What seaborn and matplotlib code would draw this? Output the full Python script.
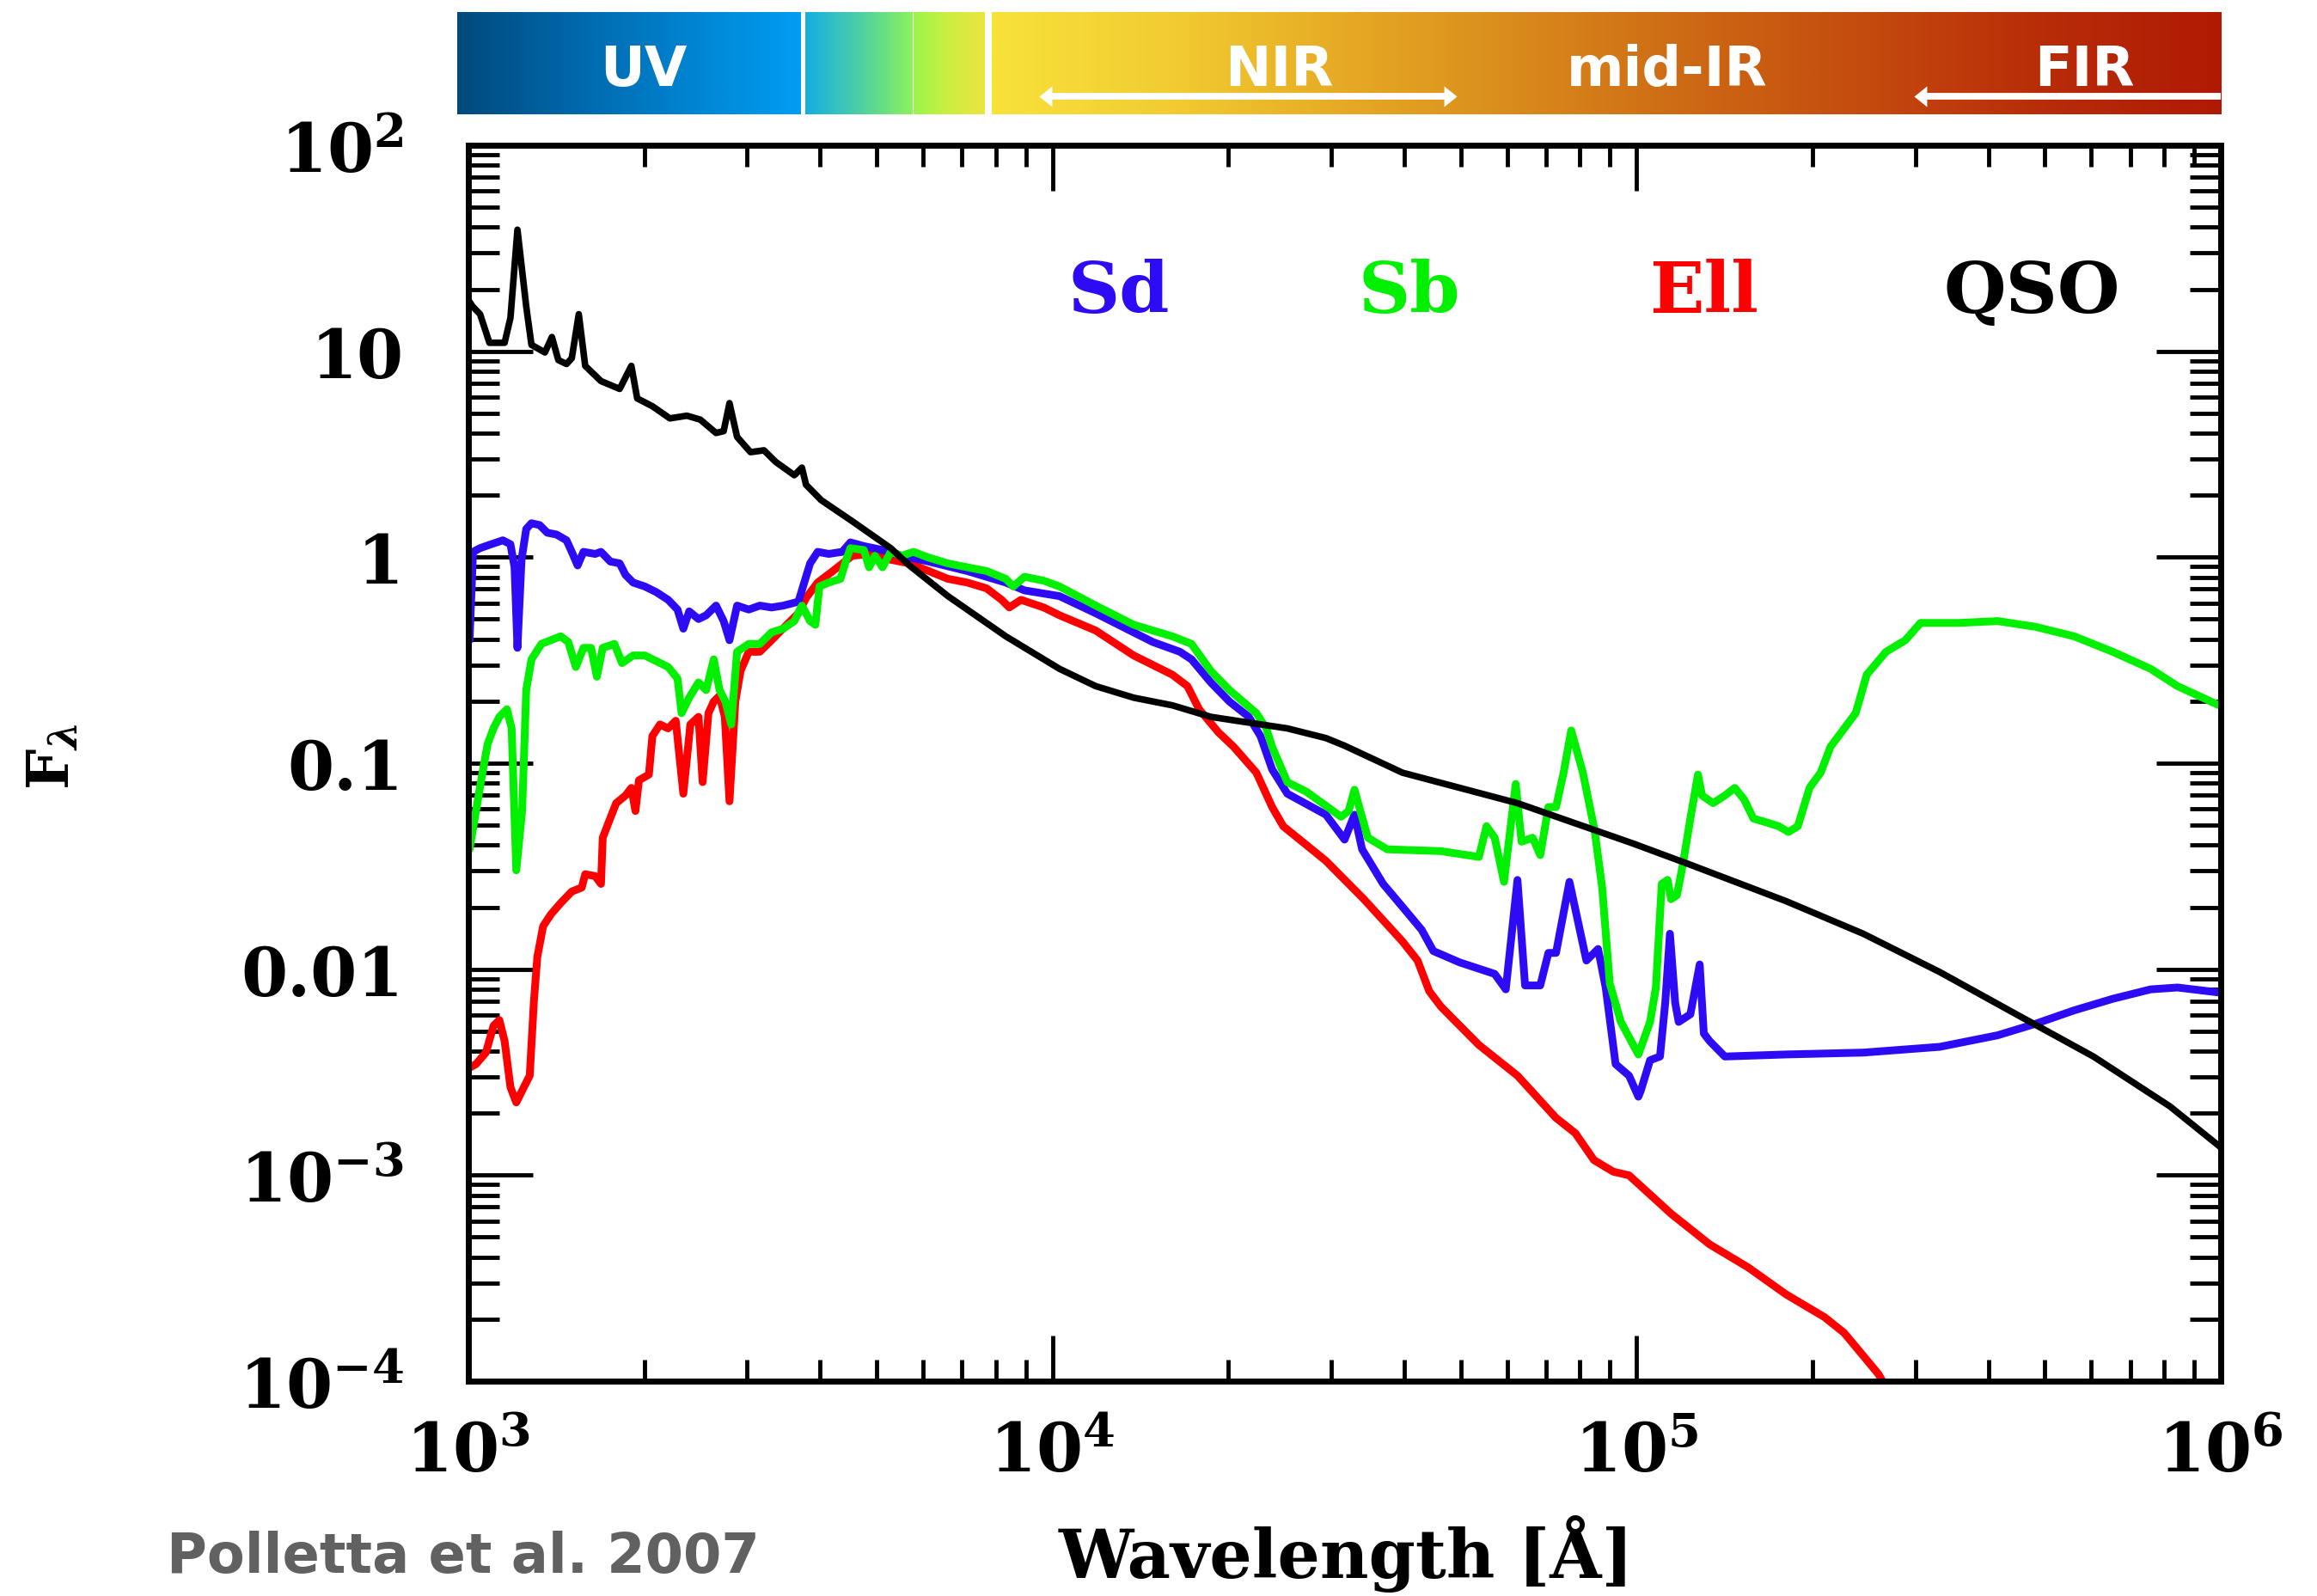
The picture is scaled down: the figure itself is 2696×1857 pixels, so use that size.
import numpy as np
import matplotlib
matplotlib.use("Agg")
import matplotlib.pyplot as plt
from matplotlib.colors import LinearSegmentedColormap
from matplotlib.ticker import LogLocator, NullFormatter
import seaborn as sns

# ---------------------------------------------------------------
# Template SEDs: log10 wavelength [Angstrom] and log10 F_lambda
# ---------------------------------------------------------------
qso_logwave = [3.002, 3.007, 3.020, 3.036, 3.062, 3.072, 3.084, 3.099, 3.108, 3.131,
               3.143, 3.154, 3.168, 3.177, 3.189, 3.200, 3.227, 3.259, 3.279, 3.289,
               3.315, 3.345, 3.374, 3.397, 3.424, 3.437, 3.447, 3.460, 3.483, 3.506,
               3.526, 3.558, 3.571, 3.578, 3.604, 3.657, 3.723, 3.755, 3.821, 3.920,
               4.012, 4.074, 4.139, 4.205, 4.271, 4.336, 4.402, 4.468, 4.500, 4.599,
               4.796, 4.994, 5.092, 5.256, 5.388, 5.519, 5.650, 5.782, 5.913, 6.000]
qso_logflux = [1.240, 1.218, 1.180, 1.041, 1.041, 1.162, 1.590, 1.218, 1.031, 0.994,
               1.069, 0.957, 0.938, 0.966, 1.180, 0.929, 0.855, 0.817, 0.929, 0.771,
               0.733, 0.674, 0.687, 0.668, 0.603, 0.612, 0.748, 0.584, 0.510, 0.519,
               0.463, 0.398, 0.435, 0.352, 0.277, 0.175, 0.044, -0.040, -0.189, -0.384,
               -0.542, -0.626, -0.682, -0.719, -0.775, -0.803, -0.831, -0.878, -0.915, -1.046,
               -1.194, -1.390, -1.493, -1.670, -1.828, -2.014, -2.219, -2.424, -2.666, -2.865]

sd_logwave = [3.002, 3.008, 3.020, 3.039, 3.059, 3.072, 3.079, 3.084, 3.091, 3.099,
              3.108, 3.122, 3.135, 3.151, 3.168, 3.177, 3.187, 3.197, 3.217, 3.227,
              3.243, 3.259, 3.269, 3.282, 3.302, 3.322, 3.342, 3.358, 3.368, 3.378,
              3.394, 3.407, 3.424, 3.437, 3.447, 3.460, 3.480, 3.499, 3.519, 3.539,
              3.565, 3.575, 3.585, 3.598, 3.617, 3.640, 3.654, 3.677, 3.709, 3.742,
              3.788, 3.854, 3.920, 3.952, 4.012, 4.074, 4.139, 4.172, 4.218, 4.238,
              4.271, 4.303, 4.336, 4.356, 4.376, 4.402, 4.468, 4.500, 4.517, 4.530,
              4.566, 4.599, 4.632, 4.652, 4.697, 4.757, 4.776, 4.796, 4.809, 4.835,
              4.849, 4.862, 4.885, 4.914, 4.934, 4.947, 4.964, 4.987, 5.003, 5.007,
              5.023, 5.040, 5.049, 5.057, 5.066, 5.072, 5.092, 5.108, 5.115, 5.125,
              5.151, 5.256, 5.388, 5.519, 5.618, 5.683, 5.749, 5.815, 5.880, 5.926,
              6.005]
sd_logflux = [-0.403, 0.026, 0.044, 0.063, 0.082, 0.063, -0.049, -0.440, -0.012, 0.137,
              0.165, 0.156, 0.119, 0.110, 0.082, 0.026, -0.040, 0.026, 0.016, 0.026,
              -0.021, -0.030, -0.086, -0.123, -0.142, -0.170, -0.207, -0.254, -0.347, -0.263,
              -0.300, -0.282, -0.235, -0.310, -0.403, -0.235, -0.254, -0.235, -0.244, -0.235,
              -0.216, -0.123, -0.030, 0.026, 0.016, 0.026, 0.072, 0.054, 0.035, 0.007,
              -0.021, -0.067, -0.123, -0.161, -0.189, -0.272, -0.365, -0.412, -0.459, -0.496,
              -0.608, -0.701, -0.775, -0.868, -1.030, -1.148, -1.250, -1.371, -1.250, -1.418,
              -1.586, -1.697, -1.809, -1.912, -1.967, -2.023, -2.098, -1.567, -2.079, -2.079,
              -1.921, -1.921, -1.576, -1.958, -1.902, -2.089, -2.461, -2.517, -2.619, -2.591,
              -2.442, -2.424, -2.163, -1.828, -2.163, -2.256, -2.219, -1.977, -2.312, -2.349,
              -2.424, -2.414, -2.405, -2.377, -2.321, -2.265, -2.200, -2.144, -2.098, -2.089,
              -2.116]

sb_logwave = [3.002, 3.013, 3.023, 3.033, 3.043, 3.053, 3.066, 3.074, 3.082, 3.092,
              3.099, 3.108, 3.125, 3.141, 3.158, 3.171, 3.184, 3.197, 3.210, 3.220,
              3.230, 3.250, 3.263, 3.282, 3.302, 3.322, 3.342, 3.358, 3.365, 3.378,
              3.394, 3.407, 3.420, 3.430, 3.440, 3.450, 3.460, 3.480, 3.499, 3.519,
              3.539, 3.558, 3.571, 3.585, 3.594, 3.601, 3.617, 3.637, 3.647, 3.654,
              3.677, 3.686, 3.696, 3.709, 3.723, 3.742, 3.762, 3.788, 3.821, 3.854,
              3.887, 3.920, 3.933, 3.952, 3.985, 4.012, 4.074, 4.139, 4.172, 4.205,
              4.238, 4.271, 4.303, 4.349, 4.366, 4.376, 4.402, 4.435, 4.494, 4.507,
              4.517, 4.527, 4.540, 4.573, 4.665, 4.730, 4.743, 4.757, 4.773, 4.793,
              4.803, 4.822, 4.835, 4.849, 4.862, 4.875, 4.888, 4.908, 4.928, 4.941,
              4.954, 4.973, 5.003, 5.023, 5.033, 5.043, 5.053, 5.059, 5.069, 5.079,
              5.092, 5.105, 5.112, 5.131, 5.151, 5.168, 5.184, 5.200, 5.223, 5.243,
              5.260, 5.276, 5.286, 5.296, 5.315, 5.332, 5.375, 5.394, 5.427, 5.460,
              5.486, 5.552, 5.618, 5.683, 5.749, 5.815, 5.880, 5.926, 6.005]
sb_logflux = [-1.418, -1.232, -1.064, -0.906, -0.831, -0.775, -0.738, -0.831, -1.520, -1.232,
              -0.645, -0.496, -0.421, -0.403, -0.384, -0.412, -0.533, -0.440, -0.440, -0.580,
              -0.440, -0.421, -0.514, -0.477, -0.477, -0.505, -0.533, -0.589, -0.757, -0.682,
              -0.608, -0.645, -0.496, -0.645, -0.701, -0.812, -0.459, -0.421, -0.421, -0.365,
              -0.347, -0.310, -0.235, -0.310, -0.328, -0.142, -0.123, -0.105, -0.012, 0.044,
              0.035, -0.049, 0.007, -0.049, 0.026, 0.007, 0.026, -0.002, -0.030, -0.049,
              -0.067, -0.105, -0.142, -0.095, -0.114, -0.142, -0.235, -0.328, -0.356, -0.384,
              -0.421, -0.552, -0.645, -0.757, -0.831, -0.920, -1.092, -1.139, -1.260, -1.232,
              -1.129, -1.232, -1.362, -1.418, -1.427, -1.455, -1.306, -1.362, -1.576, -1.101,
              -1.381, -1.362, -1.446, -1.213, -1.213, -1.046, -0.841, -1.046, -1.325, -1.604,
              -2.070, -2.256, -2.414, -2.256, -2.089, -1.586, -1.567, -1.660, -1.641, -1.493,
              -1.269, -1.055, -1.157, -1.194, -1.157, -1.120, -1.176, -1.269, -1.288, -1.306,
              -1.334, -1.306, -1.213, -1.120, -1.046, -0.920, -0.757, -0.570, -0.459, -0.403,
              -0.319, -0.319, -0.310, -0.338, -0.384, -0.459, -0.542, -0.626, -0.729]

ell_logwave = [3.001, 3.013, 3.030, 3.043, 3.053, 3.062, 3.072, 3.082, 3.095, 3.105,
               3.112, 3.118, 3.128, 3.141, 3.158, 3.177, 3.194, 3.200, 3.217, 3.227,
               3.230, 3.240, 3.253, 3.269, 3.279, 3.286, 3.292, 3.309, 3.315, 3.328,
               3.342, 3.355, 3.368, 3.380, 3.394, 3.401, 3.411, 3.420, 3.430, 3.439,
               3.447, 3.457, 3.466, 3.480, 3.499, 3.519, 3.545, 3.565, 3.578, 3.598,
               3.624, 3.657, 3.690, 3.723, 3.755, 3.788, 3.821, 3.854, 3.887, 3.913,
               3.926, 3.946, 3.985, 4.012, 4.074, 4.139, 4.205, 4.231, 4.251, 4.284,
               4.310, 4.349, 4.376, 4.395, 4.468, 4.533, 4.599, 4.625, 4.645, 4.665,
               4.730, 4.796, 4.862, 4.895, 4.927, 4.960, 4.987, 5.059, 5.125, 5.191,
               5.256, 5.322, 5.355, 5.388, 5.414, 5.430]
ell_logflux = [-2.480, -2.461, -2.405, -2.275, -2.247, -2.349, -2.573, -2.647, -2.573, -2.517,
               -2.163, -1.940, -1.791, -1.735, -1.679, -1.623, -1.604, -1.539, -1.548, -1.586,
               -1.362, -1.288, -1.194, -1.157, -1.120, -1.232, -1.083, -1.055, -0.868, -0.812,
               -0.831, -0.794, -1.148, -0.812, -0.775, -1.092, -0.757, -0.701, -0.673, -0.775,
               -1.185, -0.701, -0.552, -0.459, -0.459, -0.403, -0.328, -0.272, -0.198, -0.123,
               -0.067, 0.007, 0.016, -0.012, -0.030, -0.067, -0.105, -0.123, -0.151, -0.207,
               -0.244, -0.207, -0.244, -0.282, -0.356, -0.477, -0.570, -0.626, -0.738, -0.850,
               -0.920, -1.046, -1.213, -1.306, -1.474, -1.660, -1.865, -1.958, -2.107, -2.182,
               -2.368, -2.517, -2.722, -2.796, -2.927, -2.983, -3.001, -3.187, -3.336, -3.448,
               -3.579, -3.690, -3.765, -3.877, -3.966, -4.044]

template_names = ["Sd", "Sb", "Ell", "QSO"]
template_colors = {"Sd": "#2d0cf5", "Sb": "#00f000", "Ell": "#ff0000", "QSO": "#000000"}
template_data = {
    "Sd": (sd_logwave, sd_logflux),
    "Sb": (sb_logwave, sb_logflux),
    "Ell": (ell_logwave, ell_logflux),
    "QSO": (qso_logwave, qso_logflux),
}

# tick labels
xtick_values = [1e3, 1e4, 1e5, 1e6]
xtick_labels = [r"$10^{3}$", r"$10^{4}$", r"$10^{5}$", r"$10^{6}$"]
ytick_values = [1e2, 1e1, 1e0, 1e-1, 1e-2, 1e-3, 1e-4]
ytick_labels = [r"$10^{2}$", "10", "1", "0.1", "0.01", r"$10^{-3}$", r"$10^{-4}$"]

# spectral-region colour band
band_names = ["UV", "NIR", "mid-IR", "FIR"]
band_label_x = [0.1057, 0.4659, 0.6862, 0.9225]
band_segments = [(0.0, 0.1949), (0.1973, 0.2578), (0.2588, 0.2992), (0.3031, 1.0)]
band_gradients = [
    ["#004a7b", "#0066aa", "#0083d0", "#009df2"],
    ["#14aee2", "#4ccfa6", "#8cf25c"],
    ["#98f74a", "#cdee42", "#ece43e"],
    ["#f8e23a", "#f2cc32", "#e6aa24", "#d98a1c", "#cd6814", "#c44a0e", "#b82c08", "#b01a04"],
]

# ---------------------------------------------------------------
sns.set_style("ticks")
plt.rcParams["font.family"] = ["DejaVu Serif", "DejaVu Sans"]
plt.rcParams["font.weight"] = "bold"
plt.rcParams["text.color"] = "black"
plt.rcParams["axes.labelcolor"] = "black"
plt.rcParams["xtick.color"] = "black"
plt.rcParams["ytick.color"] = "black"
plt.rcParams["xtick.labelcolor"] = "black"
plt.rcParams["ytick.labelcolor"] = "black"
plt.rcParams["mathtext.fontset"] = "custom"
plt.rcParams["mathtext.rm"] = "DejaVu Serif:bold"
plt.rcParams["mathtext.it"] = "DejaVu Serif:italic:bold"
plt.rcParams["mathtext.bf"] = "DejaVu Serif:bold"

W, H = 2696, 1858
fig = plt.figure(figsize=(W / 100, H / 100), dpi=100)
fig.patch.set_facecolor("white")

ax = fig.add_axes([545 / W, 250 / H, 2039 / W, 1438 / H])

draw_order = ["Ell", "Sd", "Sb", "QSO"]
for name in draw_order:
    lw_, lf_ = template_data[name]
    sns.lineplot(x=10 ** np.asarray(lw_), y=10 ** np.asarray(lf_), ax=ax,
                 color=template_colors[name], linewidth=5.5 if name == "QSO" else 6.5,
                 estimator=None, sort=False, legend=False)

ax.set_xscale("log")
ax.set_yscale("log")
ax.set_xlim(1e3, 1e6)
ax.set_ylim(1e-4, 1e2)

ax.set_xticks(xtick_values, labels=xtick_labels)
ax.set_yticks(ytick_values, labels=ytick_labels)
for axis in (ax.xaxis, ax.yaxis):
    axis.set_minor_locator(LogLocator(base=10, subs=np.arange(2, 10), numticks=100))
    axis.set_minor_formatter(NullFormatter())

ax.tick_params(axis="x", which="major", direction="in", length=38, width=3.5,
               top=True, bottom=True, pad=32, labelsize=56, color="black", labelcolor="black")
ax.tick_params(axis="x", which="minor", direction="in", length=18, width=3.5,
               top=True, bottom=True, color="black")
ax.tick_params(axis="y", which="major", direction="in", length=54, width=3.5,
               left=True, right=True, pad=54, labelsize=56, color="black", labelcolor="black")
ax.tick_params(axis="y", which="minor", direction="in", length=26, width=3.5,
               left=True, right=True, color="black")
for spine in ax.spines.values():
    spine.set_linewidth(5)
    spine.set_color("black")

ax.set_xlabel("Wavelength [Å]", fontsize=56, fontweight="bold", color="black")
ax.xaxis.set_label_coords(0.5007, -0.108)
ax.set_ylabel(r"$\mathrm{F}_{\lambda}$", fontsize=48, color="black")
ax.yaxis.set_label_coords(-0.237, 0.506)
ax.yaxis.label.set_verticalalignment("center")

label_x = {"Sd": 0.371, "Sb": 0.537, "Ell": 0.705, "QSO": 0.892}
for name in template_names:
    ax.text(label_x[name], 0.865, name, transform=ax.transAxes, color=template_colors[name],
            ha="center", va="baseline", fontsize=60, fontweight="bold")

# ---------------------------------------------------------------
# Spectral-region band above the plot
# ---------------------------------------------------------------
bar = fig.add_axes([532 / W, (H - 134) / H, 2052 / W, 119 / H])
ramp = np.linspace(0, 1, 512)[None, :]
for (x0, x1), cols in zip(band_segments, band_gradients):
    cmap = LinearSegmentedColormap.from_list("band", cols)
    bar.imshow(ramp, cmap=cmap, extent=(x0, x1, 0, 1), aspect="auto", interpolation="bilinear")
bar.set_xlim(0, 1)
bar.set_ylim(0, 1)
bar.axis("off")

for name, x in zip(band_names, band_label_x):
    bar.text(x, 0.286, name, color="white", ha="center", va="baseline",
             fontsize=46, fontweight="bold", family="DejaVu Sans")

left_head = [(0, 0), (1.24, 1), (1.24, -1), (0, 0)]
right_head = [(0, 0), (-1.24, 1), (-1.24, -1), (0, 0)]
arrow_y = 0.176
head_len = 0.0068


def band_arrow(x0, x1, left=True, right=True):
    bar.plot([x0 + (head_len if left else 0), x1 - (head_len if right else 0)],
             [arrow_y, arrow_y], color="white", lw=5.6, solid_capstyle="butt")
    if left:
        bar.plot([x0], [arrow_y], marker=left_head, ms=21.5, color="white", mew=0)
    if right:
        bar.plot([x1], [arrow_y], marker=right_head, ms=21.5, color="white", mew=0)


band_arrow(0.3299, 0.5668)
band_arrow(0.826, 1.0, right=False)

fig.text(194 / W, (H - 1830) / H, "Polletta et al. 2007", color="#616161",
         ha="left", va="baseline", fontsize=46, fontweight="bold", family="DejaVu Sans")

fig.savefig("out.png", dpi=100, facecolor="white")
